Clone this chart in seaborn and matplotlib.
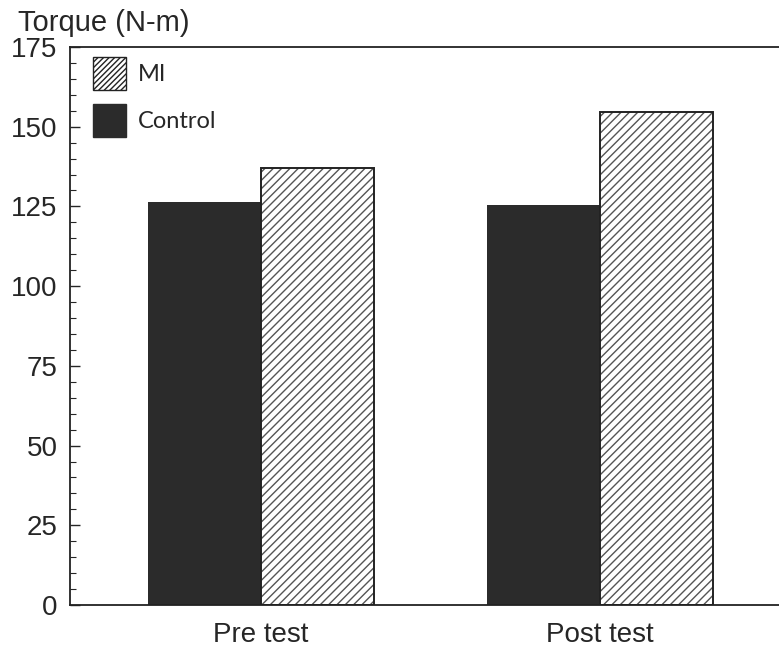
import pandas as pd
import matplotlib as mpl
import matplotlib.pyplot as plt
import seaborn as sns
from matplotlib.patches import Patch, Rectangle
from matplotlib.ticker import MultipleLocator

tests = ["Pre test", "Post test"]
control = [126.5, 125.5]
mi = [137.0, 154.5]

df = pd.DataFrame({
    "test": tests * 2,
    "group": ["Control"] * 2 + ["MI"] * 2,
    "torque": control + mi,
})

sns.set_style("ticks")
mpl.rcParams['font.family'] = ['Liberation Sans', 'DejaVu Sans']
mpl.rcParams['hatch.linewidth'] = 1.0
mpl.rcParams['hatch.color'] = '#555555'

fig = plt.figure(figsize=(7.79, 6.55), dpi=100)
ax = fig.add_axes([70 / 779, 50 / 655, 709 / 779, 558 / 655])

sns.barplot(data=df, x="test", y="torque", hue="group", hue_order=["Control", "MI"],
            palette={"Control": "#2b2b2b", "MI": "white"}, width=0.667, gap=0,
            errorbar=None, legend=False, saturation=1, ax=ax)

for bar in ax.containers[0]:
    bar.set_edgecolor("#2b2b2b")
    bar.set_linewidth(0)
for bar in ax.containers[1]:
    bar.set_hatch("////")
    bar.set_edgecolor("#555555")
    bar.set_linewidth(0)
    ax.add_patch(Rectangle(bar.get_xy(), bar.get_width(), bar.get_height(),
                           fill=False, edgecolor="#222222", linewidth=1.4, zorder=3))

ax.set_xlim(-0.563, 1.528)
ax.set_ylim(0, 175)
ax.yaxis.set_major_locator(MultipleLocator(25))
ax.yaxis.set_minor_locator(MultipleLocator(5))
ax.tick_params(axis="y", direction="in", length=7, width=1, labelsize=20, pad=9)
ax.tick_params(axis="y", which="minor", direction="in", length=4, width=0.8)
ax.tick_params(axis="x", length=0, labelsize=20, pad=12)
ax.set_xlabel("")
ax.set_ylabel("")
for s in ["left", "top", "bottom"]:
    ax.spines[s].set_linewidth(1.3)
    ax.spines[s].set_color("#222222")
ax.spines["right"].set_visible(False)

fig.text(18 / 779, 1 - 31 / 655, "Torque (N-m)", fontsize=21, ha="left", va="baseline")

handles = [Patch(facecolor="white", edgecolor="#222222", hatch="//////", label="MI"),
           Patch(facecolor="#2b2b2b", edgecolor="#2b2b2b", label="Control")]
ax.legend(handles=handles, loc="upper left", bbox_to_anchor=(0.032, 0.982),
          frameon=False, borderaxespad=0, borderpad=0,
          handlelength=1.4, handleheight=1.75, labelspacing=0.62, handletextpad=0.5,
          prop={"family": "Lato", "size": 17})

plt.savefig("out.png", dpi=100)
